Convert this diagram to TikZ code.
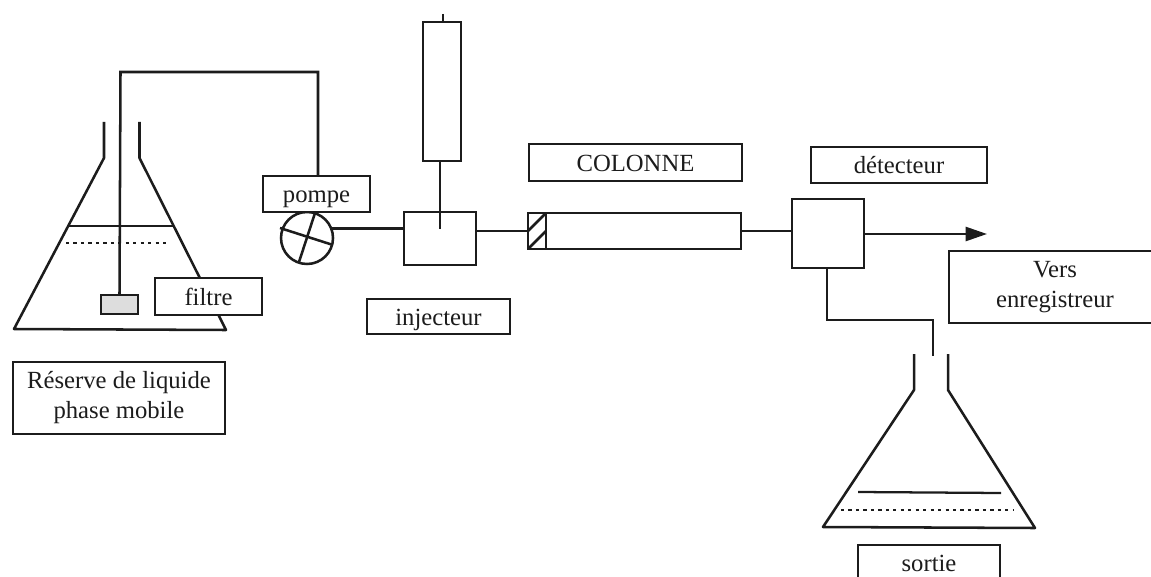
\documentclass[tikz,border=0pt]{standalone}
\usepackage{fontspec}
\setmainfont{Liberation Serif}
\usepackage{xcolor}
\usetikzlibrary{arrows.meta}
\definecolor{inkline}{HTML}{1C1C1C}
\definecolor{filtergray}{HTML}{DDDDDD}

\begin{document}
\begin{tikzpicture}[
  x=0.75pt, y=-0.75pt,
  pipe/.style={draw=inkline, line width=1.9pt},
  part/.style 2 args={pipe, fill=white, inner sep=0pt, outer sep=0pt, minimum width=#1*0.75pt, minimum height=#2*0.75pt},
  tag/.style 2 args={draw=inkline, line width=1.1pt, fill=white, text=inkline, inner sep=0pt, outer sep=0pt, align=center,
    font=\fontsize{18.5}{22.5}\selectfont, minimum width=#1*0.75pt, minimum height=#2*0.75pt},
  oneline/.style={text height=12.8pt, text depth=0pt},
  arrow/.style={pipe, -{Triangle[length=16pt, width=10.5pt]}},
  level/.style={inkline, line width=1.7pt},
  dotlevel/.style={inkline, line width=1.3pt, dash pattern=on 2.4pt off 3.2pt}
]
\path[use as bounding box, clip] (0,0) rectangle (1151,577);

% reservoir
\draw[pipe, line join=round] (104,122) -- (104,158) -- (14,329) -- (226,330) -- (139.5,158) -- (139.5,122);
\draw[level] (68,226) -- (174,226);
\draw[dotlevel] (66,243) -- (170,243);
\draw[dotlevel] (841,510) -- (1013,510);

% output flask
\draw[pipe, line join=round] (914,354) -- (914,390) -- (823,527) -- (1035,528) -- (948,390) -- (948,354);
\draw[level] (858,492) -- (1001,493);

% parts
\node[part={37}{19}, fill=filtergray] (filter) at (119.5,304.5) {};
\node[part={72}{53}] (injector) at (440,238.5) {};
\node[part={38}{139}] (syringe) at (442,91.5) {};
\node[part={18}{36}] (frit) at (537,231) {};
\node[part={195}{36}] (column) at (643.5,231) {};
\node[part={72}{69}] (detector) at (828,233.5) {};
\node[part={52}{52}, circle] (pump) at (307,238) {};
\coordinate (tubetop) at (120.5,72);
\coordinate (syringetop) at (443,14);
\coordinate (rodend) at (440,229);
\coordinate (recorder) at (987,234);
\coordinate (drainbend) at (827,320);
\coordinate (drainend) at (933,356);

% pipes
\draw[pipe] (filter.north) -- (tubetop) -- (318,72) -- (318,177);
\draw[pipe] (pump.22) -- (pump.22 -| injector.west);
\draw[pipe] (injector.east |- frit.west) -- (frit.west);
\draw[pipe] (column.east) -- (column.east -| detector.west);
\draw[pipe] (syringetop) -- (syringe.north -| syringetop);
\draw[pipe] (syringe.south -| rodend) -- (rodend);
\draw[arrow] (detector.east |- recorder) -- (recorder);
\draw[pipe] (detector.south -| drainbend) -- (drainbend) -- (drainbend -| drainend) -- (drainend);

% pump cross
\draw[pipe] (280,228) -- (333,245);
\draw[pipe] (315,213) -- (299,262);

% frit hatching
\draw[pipe] (frit.west) -- (frit.north east);
\draw[pipe] (frit.south west) -- (frit.east);

% labels
\node[tag={107}{36}, oneline] (lblpompe) at (316.5,194) {pompe};
\node[tag={107}{37}, oneline] (lblfiltre) at (208.5,296.5) {filtre};
\node[tag={143}{35}, oneline] (lblinjecteur) at (438.5,316.5) {injecteur};
\node[tag={213}{37}, oneline] (lblcolonne) at (635.5,162.5) {COLONNE};
\node[tag={176}{36}, oneline] (lbldetecteur) at (899,165) {détecteur};
\node[tag={212}{72}] (lblvers) at (1055,287) {Vers\\enregistreur};
\node[tag={212}{72}] (lblreserve) at (119,398) {Réserve de liquide\\phase mobile};
\node[tag={142}{36}, oneline] (lblsortie) at (929,563) {sortie};
\end{tikzpicture}
\end{document}
